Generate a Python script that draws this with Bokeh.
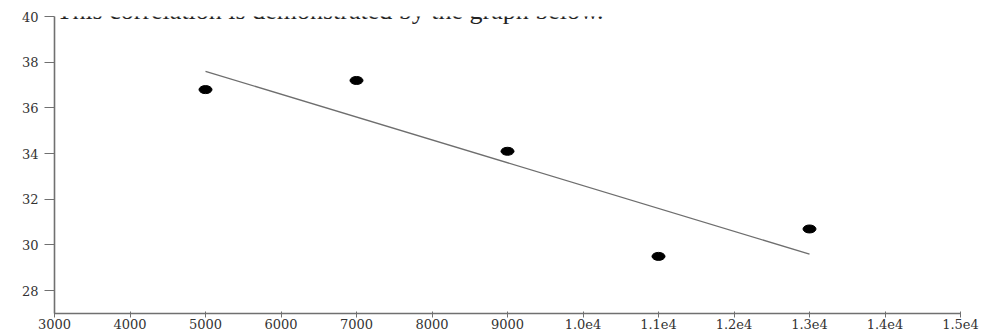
from bokeh.plotting import figure
from bokeh.models import ColumnDataSource, FixedTicker, Range1d, Label
from bokeh.embed import file_html
from bokeh.resources import INLINE

# ---- data ----
x_vals = [5000, 7000, 9000, 11000, 13000]
y_vals = [36.8, 37.2, 34.1, 29.5, 30.7]
fit_x = [5000, 13000]
fit_y = [37.6, 29.6]

x_ticks = [3000, 4000, 5000, 6000, 7000, 8000, 9000, 10000, 11000, 12000, 13000, 14000, 15000]
x_tick_labels = ["3000", "4000", "5000", "6000", "7000", "8000", "9000",
                 "1.0e4", "1.1e4", "1.2e4", "1.3e4", "1.4e4", "1.5e4"]
y_ticks = [28, 30, 32, 34, 36, 38, 40]
y_tick_labels = ["28", "30", "32", "34", "36", "38", "40"]
caption = "This correlation is demonstrated by the graph below."

p = figure(width=985, height=332, output_backend="svg", toolbar_location=None,
           x_range=Range1d(3000, 15000), y_range=Range1d(27, 40),
           min_border_left=54, min_border_right=25, min_border_top=16, min_border_bottom=19)
p.outline_line_color = None
p.background_fill_color = "white"
p.border_fill_color = "white"
p.xgrid.visible = False
p.ygrid.visible = False

# axes
p.xaxis.ticker = FixedTicker(ticks=x_ticks)
p.xaxis.major_label_overrides = {t: l for t, l in zip(x_ticks, x_tick_labels)}
p.yaxis.ticker = FixedTicker(ticks=y_ticks)
p.yaxis.major_label_overrides = {t: l for t, l in zip(y_ticks, y_tick_labels)}
for ax in (p.xaxis[0], p.yaxis[0]):
    ax.axis_line_color = "#707070"
    ax.axis_line_width = 1.6
    ax.major_tick_line_color = "#707070"
    ax.minor_tick_line_color = None
    ax.major_label_text_font = "DejaVu Serif"
    ax.major_label_text_font_size = "13px"
    ax.major_label_text_color = "#333333"
p.xaxis.major_tick_out = 4
p.xaxis.major_tick_in = 2
p.xaxis.major_label_standoff = 1
p.yaxis.major_tick_out = 10
p.yaxis.major_tick_in = 0
p.yaxis.major_label_standoff = 6

# regression line
p.line(fit_x, fit_y, line_color="#6e6e6e", line_width=1.3)

# points
src = ColumnDataSource(dict(x=x_vals, y=y_vals))
p.ellipse(x="x", y="y", width=13, height=8, width_units="screen", height_units="screen",
          source=src, fill_color="black", line_color="black")

# cut-off caption text above the chart (screen units, relative to the frame)
p.add_layout(Label(x=2, y=303, x_units="screen", y_units="screen", text=caption,
                   text_font="Liberation Serif", level="overlay",
                   text_font_size="26px", text_color="#222222", text_baseline="alphabetic",
                   text_align="left"))

html = file_html(p, INLINE)
open("out.html", "w").write(html)
